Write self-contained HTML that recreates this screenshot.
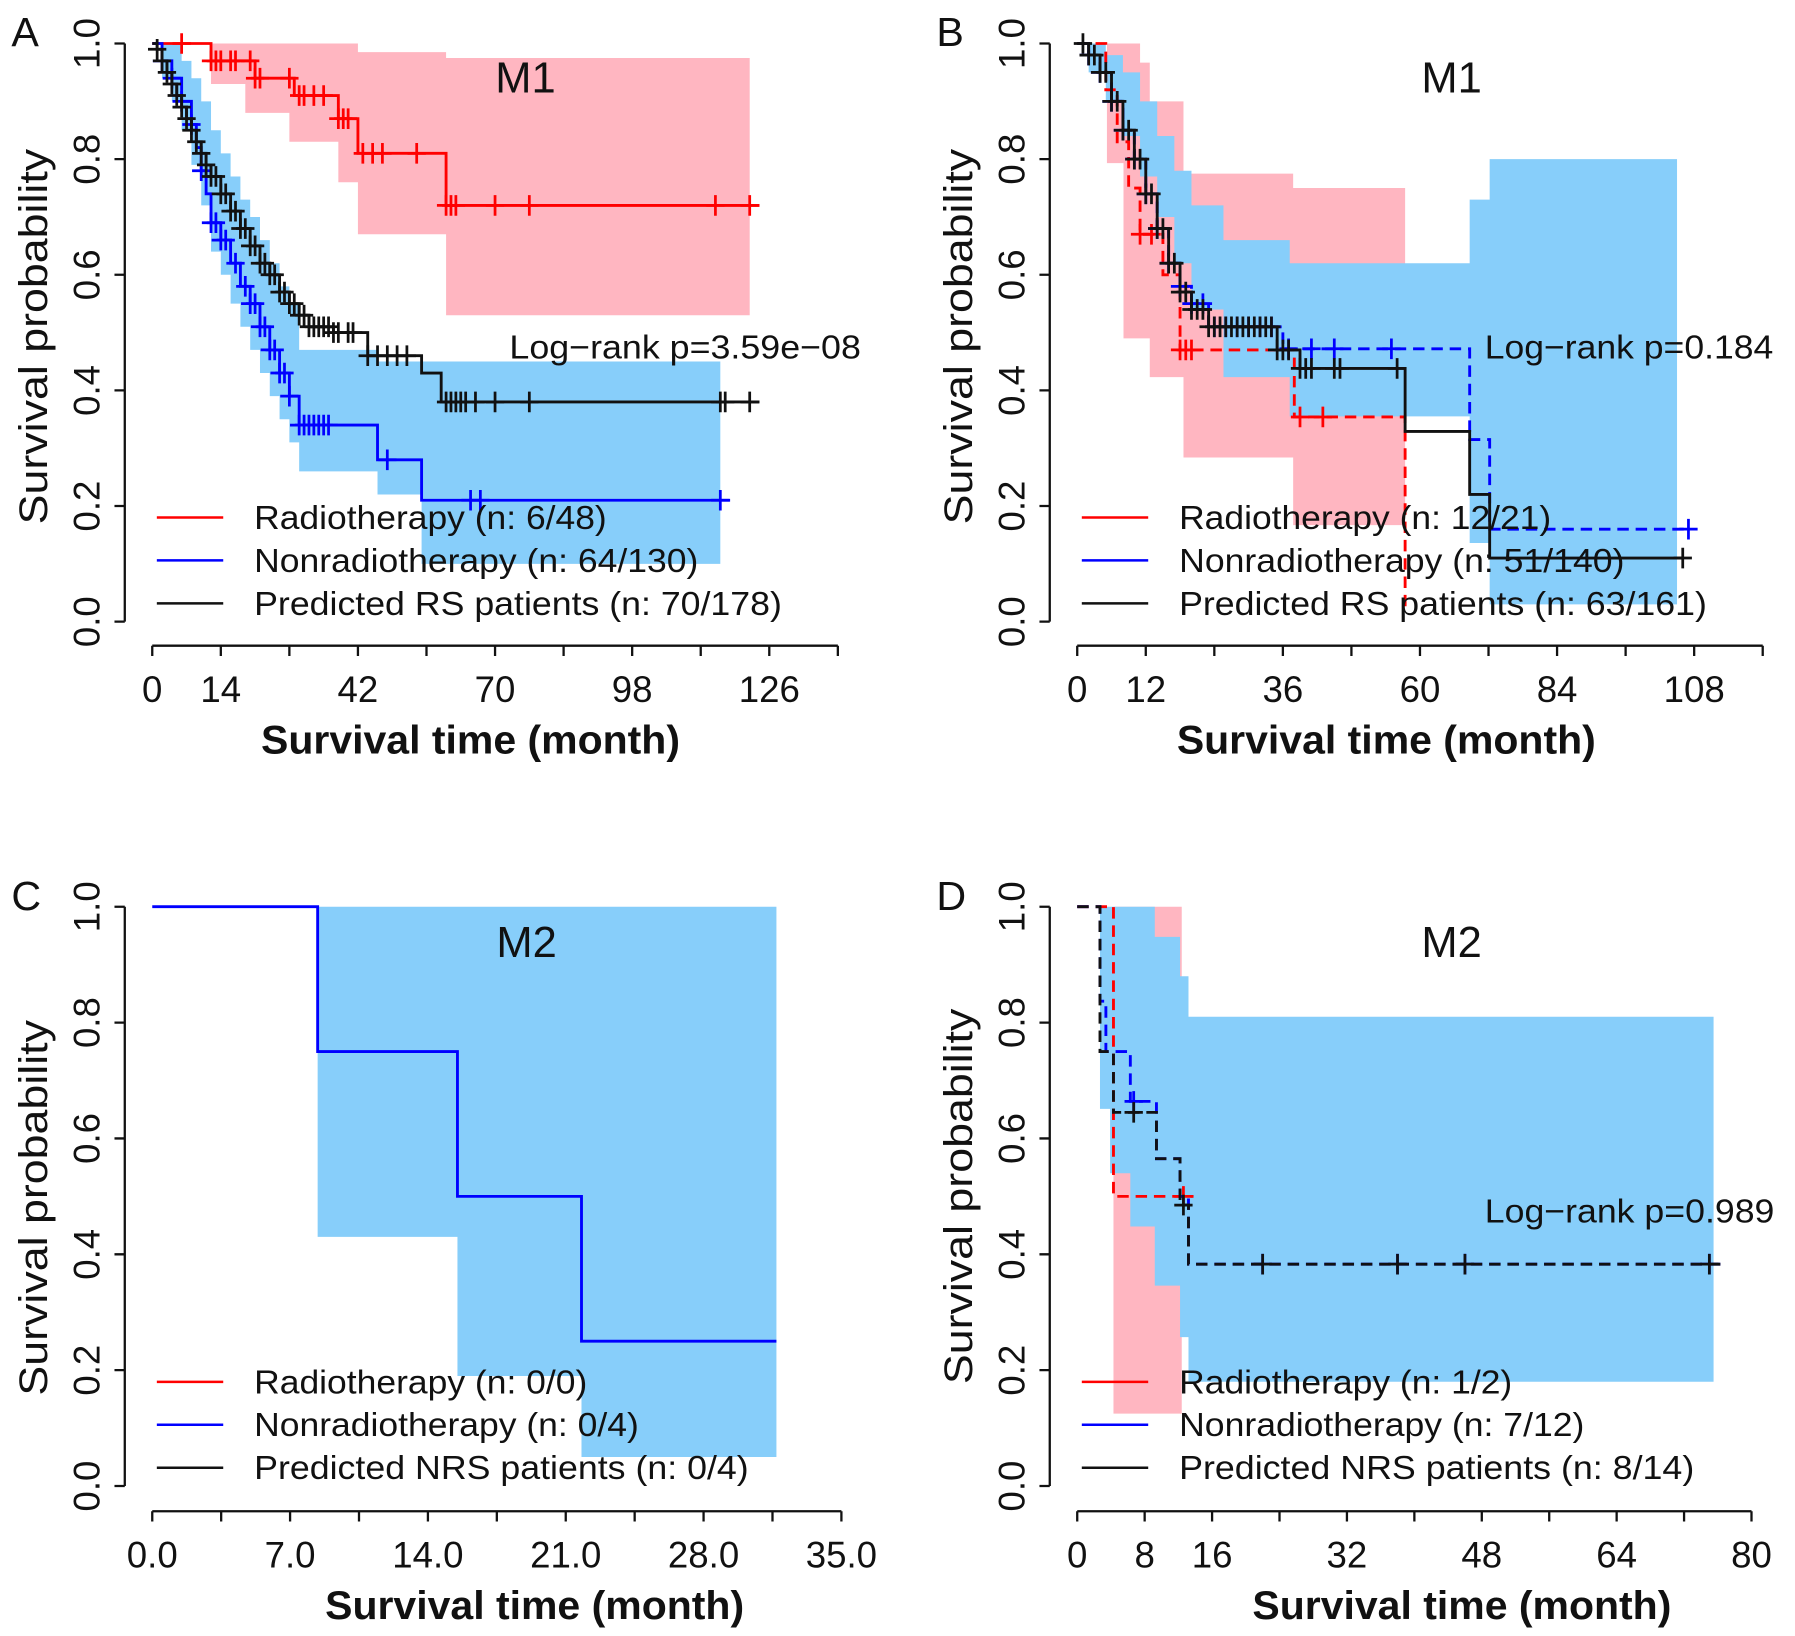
<!DOCTYPE html>
<html><head><meta charset="utf-8"><title>Survival curves</title>
<style>
html,body{margin:0;padding:0;background:#fff;}
svg{display:block;}
text{font-family:"Liberation Sans",Arial,sans-serif;fill:#111;}
</style></head>
<body>
<svg id="fig" width="1795" height="1636" viewBox="0 0 1568 1429" preserveAspectRatio="none" xmlns="http://www.w3.org/2000/svg"></svg>
<script>
// ---------- Panel A data ----------
const aRadT=[0,12,21,29,38,42,60];
const aRadS=[1,0.97,0.94,0.91,0.87,0.81,0.72];
const aRadEnd=124;
const aRadCens=[6,12,13,14,16,17,20,21,22,28,30,31,33,35,38,39,40,43,45,47,54,60,61,62,70,77,115,122];
const aRadBandT=[12,19,28,38,42,60];
const aRadBandU=[1,1,1,1,0.985,0.975];
const aRadBandL=[0.93,0.88,0.83,0.76,0.67,0.53];
const aRadBandEnd=122;
const aNonT=[0,2,4,6,8,9,10,11,12,14,16,18,20,22,24,26,28,30,46,55];
const aNonS=[1,0.97,0.94,0.9,0.86,0.82,0.78,0.74,0.69,0.66,0.62,0.58,0.55,0.51,0.47,0.43,0.39,0.34,0.28,0.21];
const aNonEnd=118;
const aNonCens=[2,4,6,8,10,12,13,14,15,17,19,20,21,22,23,24,25,26,27,28,30,31,32,33,34,35,36,48,65,67,116];
const aNonBandT=[0,2,4,6,8,10,12,14,16,18,20,22,24,26,28,30,46,55];
const aNonBandU=[1,1,1,0.97,0.94,0.9,0.85,0.81,0.77,0.73,0.7,0.66,0.62,0.58,0.55,0.47,0.45,0.45];
const aNonBandL=[1,0.94,0.9,0.85,0.79,0.72,0.64,0.6,0.55,0.51,0.47,0.43,0.39,0.35,0.31,0.26,0.22,0.1];
const aNonBandEnd=116;
const aRsT=[0,1,2,3,4,5,6,7,8,9,10,11,12,14,16,18,20,22,24,26,28,30,32,37,44,55,59];
const aRsS=[1,0.99,0.97,0.95,0.93,0.91,0.89,0.87,0.85,0.83,0.81,0.79,0.77,0.74,0.71,0.68,0.65,0.62,0.6,0.57,0.55,0.53,0.51,0.5,0.46,0.43,0.38];
const aRsEnd=124;
const aRsCens=[1,2,3,4,5,6,7,8,9,10,11,12,13,14,15,16,17,18,19,20,21,22,23,24,25,26,27,28,29,30,31,32,33,34,35,36,37,38,40,41,44,46,48,50,52,60,61,62,63,64,66,70,77,116,117,122];
const aXTicks=[0,14,28,42,56,70,84,98,112,126,140];
const aXLabels=[0,14,42,70,98,126];

// ---------- Panel B data ----------
const bRadT=[0,5,7,9,11,15,18,38,57.4];
const bRadS=[1,0.92,0.83,0.75,0.67,0.6,0.47,0.354,0.02];
const bRadEnd=57.4;
const bRadCens=[11,13,18,19,20,39,43];
const bRadBandT=[5.2,8.1,11.0,12.7,18.6,37.8];
const bRadBandU=[1,1,0.967,0.9,0.775,0.75];
const bRadBandL=[0.793,0.49,0.49,0.423,0.284,0.167];
const bRadBandEnd=57.4;
const bNonT=[0,2,4,6,8,10,12,14,16,18,20,23,36,68.7,72.2];
const bNonS=[1,0.98,0.95,0.9,0.85,0.8,0.74,0.68,0.62,0.58,0.55,0.51,0.472,0.315,0.16];
const bNonEnd=107;
const bNonCens=[2,4,6,8,10,12,14,16,18,20,22,24,26,28,30,32,34,37,41,45,55,107];
const bNonBandT=[0,2,5,8,11,14,17,20,25.6,37.2,57.4,68.7,72.2];
const bNonBandU=[1,1,0.98,0.95,0.9,0.84,0.78,0.72,0.66,0.62,0.62,0.73,0.8];
const bNonBandL=[1,0.95,0.9,0.84,0.77,0.7,0.62,0.54,0.423,0.355,0.355,0.136,0.03];
const bNonBandEnd=105;
const bRsT=[0,2,4,6,8,10,12,14,16,18,20,23,35,39,57.4,68.7,72.2];
const bRsS=[1,0.98,0.95,0.9,0.85,0.8,0.74,0.68,0.62,0.57,0.54,0.51,0.47,0.438,0.329,0.22,0.11];
const bRsEnd=106;
const bRsCens=[1,2,3,4,5,6,7,8,9,10,11,12,13,14,15,16,17,18,19,20,21,22,23,24,25,26,27,28,29,30,31,32,33,34,35,36,37,39,40,41,45,46,56,106];
const bXTicks=[0,12,24,36,48,60,72,84,96,108,120];
const bXLabels=[0,12,36,60,84,108];

// ---------- Panel C data ----------
const cNonT=[0,8.4,15.5,21.8];
const cNonS=[1,0.75,0.5,0.25];
const cNonEnd=31.7;
const cNonBandT=[8.4,15.5,21.8];
const cNonBandU=[1,1,1];
const cNonBandL=[0.43,0.19,0.05];
const cNonBandEnd=31.7;
const cXTicks=[0,3.5,7,10.5,14,17.5,21,24.5,28,31.5,35];
const cXLabels=[0,7,14,21,28,35];

// ---------- Panel D data ----------
const dRadT=[0,4.3];
const dRadS=[1,0.5];
const dRadEnd=13.8;
const dRadCens=[12.6];
const dRadBandT=[4.3];
const dRadBandU=[1];
const dRadBandL=[0.125];
const dRadBandEnd=12.4;
const dNonT=[0,2.7,3.4,6.3,9.4,12.2,13.2];
const dNonS=[1,0.837,0.75,0.664,0.565,0.5,0.383];
const dNonEnd=76.5;
const dNonCens=[6.7,22,38,46,75];
const dNonBandT=[2.7,3.9,6.3,9.2,12.2,13.2];
const dNonBandU=[1,1,1,0.948,0.88,0.81];
const dNonBandL=[0.651,0.54,0.448,0.346,0.257,0.18];
const dNonBandEnd=75.5;
const dRsT=[0,2.7,4.3,9.4,12.2,13.2];
const dRsS=[1,0.75,0.645,0.565,0.485,0.383];
const dRsEnd=76.5;
const dRsCens=[6.7,12.6,22,38,46,75];
const dXTicks=[0,8,16,24,32,40,48,56,64,72,80];
const dXLabels=[0,8,16,32,48,64,80];

const yTicks=[0,0.2,0.4,0.6,0.8,1.0];

const NS="http://www.w3.org/2000/svg";
const svg=document.getElementById('fig');
function mk(tag,attrs,parent,txt){
  const e=document.createElementNS(NS,tag);
  for(const k in attrs) e.setAttribute(k,attrs[k]);
  if(txt!==undefined) e.textContent=txt;
  (parent||svg).appendChild(e);
  return e;
}
function stepPath(xs,ys,T,S,end){
  let d='M'+xs(T[0])+','+ys(S[0]);
  for(let i=1;i<T.length;i++){d+=' H'+xs(T[i])+' V'+ys(S[i]);}
  d+=' H'+xs(end);
  return d;
}
function bandPath(xs,ys,T,U,L,end){
  let d='';
  for(let i=0;i<T.length;i++){
    const t1=(i+1<T.length)?T[i+1]:end;
    d+=(i===0?'M':'L')+xs(T[i])+','+ys(U[i])+' L'+xs(t1)+','+ys(U[i])+' ';
  }
  for(let i=T.length-1;i>=0;i--){
    const t1=(i+1<T.length)?T[i+1]:end;
    d+='L'+xs(t1)+','+ys(L[i])+' L'+xs(T[i])+','+ys(L[i])+' ';
  }
  return d+'Z';
}
function valAt(T,S,t){let v=S[0];for(let i=0;i<T.length;i++){if(T[i]<=t)v=S[i];}return v;}

function panel(p){
  const g=mk('g',{});
  
  
  const xs=t=>p.x0+t*p.kx;
  const ys=s=>p.yTop+(1-s)*p.yH;
  p.bands.forEach(b=>{
    const e=mk('path',{d:bandPath(xs,ys,b.T,b.U,b.L,b.end),fill:b.fill,stroke:'none'},g);
    
    
  });
  p.curves.forEach(c=>{
    const e=mk('path',{d:stepPath(xs,ys,c.T,c.S,c.end),fill:'none',stroke:c.col,'stroke-width':2.5,'stroke-dasharray':c.dash||'none'},g);
    
    
    (c.cens||[]).forEach(t=>{
      const x=xs(t),y=ys(valAt(c.T,c.S,t));
      const m=mk('path',{d:'M'+(x-8)+','+y+' H'+(x+8)+' M'+x+','+(y-9)+' V'+(y+9),stroke:c.col,'stroke-width':2.4,fill:'none'},g);
      
      
    });
  });
  const ya=mk('path',{d:'M'+p.yAx+','+ys(1)+' V'+ys(0)+' '+yTicks.map(v=>'M'+p.yAx+','+ys(v)+' h-9').join(' '),stroke:'#111','stroke-width':2,fill:'none'},g);
  
  
  yTicks.forEach(v=>{
    const t=mk('text',{x:p.yAx-22,y:ys(v),'font-size':32,'text-anchor':'middle',transform:'rotate(-90 '+(p.yAx-22)+' '+ys(v)+')'},g,v.toFixed(1));
    
    
  });
  const xa=mk('path',{d:'M'+xs(p.xt[0])+','+p.xAy+' H'+xs(p.xt[p.xt.length-1])+' '+p.xt.map(v=>'M'+xs(v)+','+p.xAy+' v9').join(' '),stroke:'#111','stroke-width':2,fill:'none'},g);
  
  
  p.xl.forEach(v=>{
    const t=mk('text',{x:xs(v),y:p.xAy+49,'font-size':32,'text-anchor':'middle'},g,p.fmt(v));
    
    
  });
  const xt=mk('text',{x:p.xTitleX,y:p.xAy+94,'font-size':35,'font-weight':'bold','text-anchor':'middle',textLength:366,lengthAdjust:'spacingAndGlyphs'},g,'Survival time (month)');
  
  
  const yt=mk('text',{x:p.yTitleX,y:p.yTitleY,'font-size':35,'text-anchor':'middle',textLength:328,lengthAdjust:'spacingAndGlyphs',transform:'rotate(-90 '+p.yTitleX+' '+p.yTitleY+')'},g,'Survival probability');
  
  
  const pl=mk('text',{x:p.letX,y:p.letY,'font-size':36},g,p.letter);
  
  
  const mt=mk('text',{x:p.mX,y:p.mY,'font-size':38,'text-anchor':'middle'},g,p.mLabel);
  
  
  if(p.lr){
    const lr=mk('text',{x:p.lrX,y:p.lrY,'font-size':29,textLength:p.lrW,lengthAdjust:'spacingAndGlyphs'},g,p.lr);
    
    
  }
  const cols=['#ff0000','#0000ff','#111111'];
  p.leg.forEach((txt,i)=>{
    const y=p.legY+i*37.5;
    const ln=mk('line',{x1:p.legX,x2:p.legX+58,y1:y,y2:y,stroke:cols[i],'stroke-width':2.2},g);
    
    
    const t=mk('text',{x:p.legX+85,y:y+10,'font-size':29,textLength:p.legW[i],lengthAdjust:'spacingAndGlyphs'},g,txt);
    
    
  });
}

const pink='#ffb6c1', lblue='#87cefa';
const intF=v=>String(v), decF=v=>v.toFixed(1);

panel({name:'panel-a',x0:133,kx:539/126,yTop:38,yH:505,yAx:109,xAy:564,xt:aXTicks,xl:aXLabels,fmt:intF,
  xTitleX:411,yTitleX:41,yTitleY:294,letter:'A',letX:10,letY:40,mLabel:'M1',mX:459,mY:81,
  lr:'Log\u2212rank p=3.59e\u221208',lrX:445,lrY:313,lrW:307,
  legX:137,legY:452,legW:[308,388,461],
  leg:['Radiotherapy (n: 6/48)','Nonradiotherapy (n: 64/130)','Predicted RS patients (n: 70/178)'],
  bands:[{nm:'nonradiotherapy-ci-band',T:aNonBandT,U:aNonBandU,L:aNonBandL,end:aNonBandEnd,fill:lblue},
         {nm:'radiotherapy-ci-band',T:aRadBandT,U:aRadBandU,L:aRadBandL,end:aRadBandEnd,fill:pink}],
  curves:[{nm:'radiotherapy-curve',T:aRadT,S:aRadS,end:aRadEnd,cens:aRadCens,col:'#ff0000'},
          {nm:'nonradiotherapy-curve',T:aNonT,S:aNonS,end:aNonEnd,cens:aNonCens,col:'#0000ff'},
          {nm:'predicted-rs-curve',T:aRsT,S:aRsS,end:aRsEnd,cens:aRsCens,col:'#111111'}]});

panel({name:'panel-b',x0:941,kx:4.99,yTop:38,yH:505,yAx:917,xAy:564,xt:bXTicks,xl:bXLabels,fmt:intF,
  xTitleX:1211,yTitleX:849,yTitleY:294,letter:'B',letX:818,letY:40,mLabel:'M1',mX:1268,mY:81,
  lr:'Log\u2212rank p=0.184',lrX:1297,lrY:313,lrW:252,
  legX:945,legY:452,legW:[325,389,461],
  leg:['Radiotherapy (n: 12/21)','Nonradiotherapy (n: 51/140)','Predicted RS patients (n: 63/161)'],
  bands:[{nm:'radiotherapy-ci-band',T:bRadBandT,U:bRadBandU,L:bRadBandL,end:bRadBandEnd,fill:pink},
         {nm:'nonradiotherapy-ci-band',T:bNonBandT,U:bNonBandU,L:bNonBandL,end:bNonBandEnd,fill:lblue}],
  curves:[{nm:'radiotherapy-curve',T:bRadT,S:bRadS,end:bRadEnd,cens:bRadCens,col:'#ff0000',dash:'10 6'},
          {nm:'nonradiotherapy-curve',T:bNonT,S:bNonS,end:bNonEnd,cens:bNonCens,col:'#0000ff',dash:'10 6'},
          {nm:'predicted-rs-curve',T:bRsT,S:bRsS,end:bRsEnd,cens:bRsCens,col:'#111111'}]});

panel({name:'panel-c',x0:133,kx:602/35,yTop:792,yH:506,yAx:109,xAy:1320,xt:cXTicks,xl:cXLabels,fmt:decF,
  xTitleX:467,yTitleX:41,yTitleY:1055,letter:'C',letX:10,letY:795,mLabel:'M2',mX:460,mY:836,
  lr:null,legX:137,legY:1207,legW:[291,336,432],
  leg:['Radiotherapy (n: 0/0)','Nonradiotherapy (n: 0/4)','Predicted NRS patients (n: 0/4)'],
  bands:[{nm:'nonradiotherapy-ci-band',T:cNonBandT,U:cNonBandU,L:cNonBandL,end:cNonBandEnd,fill:lblue}],
  curves:[{nm:'nonradiotherapy-curve',T:cNonT,S:cNonS,end:cNonEnd,cens:[],col:'#0000ff'}]});

panel({name:'panel-d',x0:941,kx:589/80,yTop:792,yH:506,yAx:917,xAy:1320,xt:dXTicks,xl:dXLabels,fmt:intF,
  xTitleX:1277,yTitleX:849,yTitleY:1045,letter:'D',letX:818,letY:795,mLabel:'M2',mX:1268,mY:836,
  lr:'Log\u2212rank p=0.989',lrX:1297,lrY:1068,lrW:253,
  legX:945,legY:1207,legW:[291,354,450],
  leg:['Radiotherapy (n: 1/2)','Nonradiotherapy (n: 7/12)','Predicted NRS patients (n: 8/14)'],
  bands:[{nm:'radiotherapy-ci-band',T:dRadBandT,U:dRadBandU,L:dRadBandL,end:dRadBandEnd,fill:pink},
         {nm:'nonradiotherapy-ci-band',T:dNonBandT,U:dNonBandU,L:dNonBandL,end:dNonBandEnd,fill:lblue}],
  curves:[{nm:'radiotherapy-curve',T:dRadT,S:dRadS,end:dRadEnd,cens:dRadCens,col:'#ff0000',dash:'10 6'},
          {nm:'nonradiotherapy-curve',T:dNonT,S:dNonS,end:dNonEnd,cens:dNonCens,col:'#0000ff',dash:'10 6'},
          {nm:'predicted-nrs-curve',T:dRsT,S:dRsS,end:dRsEnd,cens:dRsCens,col:'#111111',dash:'10 6'}]});
</script>
</body></html>
